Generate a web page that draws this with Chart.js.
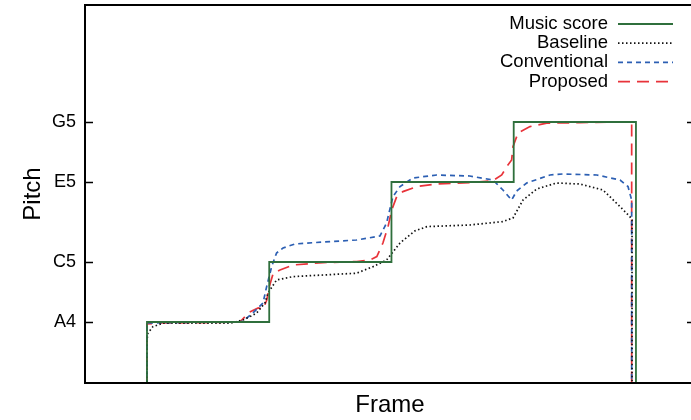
<!DOCTYPE html>
<html>
<head>
<meta charset="utf-8">
<script src="https://cdn.jsdelivr.net/npm/chart.js@4/dist/chart.umd.min.js"></script>
<style>
  html, body { margin: 0; padding: 0; background: #fff; overflow: hidden; }
  #wrap { width: 696px; height: 420px; }
</style>
</head>
<body>
<div id="wrap"><canvas id="pitchChart"></canvas></div>
<script>
// pitch in semitones (MIDI numbers), frames on x
const noteValues = [69, 72, 76, 79];
const noteLabels = ['A4', 'C5', 'E5', 'G5'];
const seriesNames = ['Music score', 'Baseline', 'Conventional', 'Proposed'];

const scoreFrames = [50, 50, 150, 150, 250, 250, 350, 350, 450, 450];
const scorePitch  = [60, 69, 69, 72, 72, 76, 76, 79, 79, 60];

const baselineFrames = [50, 50, 50.8, 54.9, 63, 118, 128.5, 134.3, 139.7, 146.5, 149, 156, 169.4, 194, 221.5, 235, 246, 257, 269, 279, 314, 341, 349.4, 357.6, 368.8, 385, 404, 423, 437, 445, 446.8, 446.8];
const baselinePitch  = [60, 68.1, 68.45, 68.77, 68.94, 68.94, 69.1, 69.27, 69.45, 69.95, 70.45, 71.1, 71.27, 71.35, 71.44, 71.77, 72.1, 72.95, 73.55, 73.77, 73.85, 74.02, 74.2, 75.1, 75.65, 75.95, 75.9, 75.6, 74.77, 74.27, 74.1, 60];

const convFrames = [50, 50, 100, 126, 128.5, 136.7, 144.9, 147.9, 152, 156, 161.3, 171, 194, 221.5, 240.6, 246, 251.2, 257, 267.6, 287, 314, 333, 341.2, 348.3, 352.4, 360.6, 379.7, 390, 418, 437, 443.5, 446.5, 446.5];
const convPitch  = [60, 68.95, 69.0, 69.0, 69.05, 69.45, 69.95, 70.77, 71.77, 72.45, 72.7, 72.9, 73.0, 73.1, 73.3, 73.95, 75.27, 75.77, 76.2, 76.35, 76.3, 76.1, 75.6, 75.1, 75.55, 75.95, 76.35, 76.4, 76.35, 76.1, 75.77, 75.1, 60];

const propFrames = [50, 50, 60, 100, 126, 134, 141, 145, 148, 150, 153.3, 158.8, 169.4, 194, 221.5, 232.4, 238, 243, 247.2, 250.2, 254.3, 259.4, 270.6, 287, 314, 333, 340.2, 344.3, 348.3, 349.4, 353.5, 363.3, 377, 404, 442.4, 446.5, 446.5];
const propPitch  = [60, 68.9, 68.95, 68.97, 69.0, 69.5, 69.7, 69.65, 70.1, 70.75, 71.44, 71.6, 71.85, 71.97, 72.02, 72.1, 72.27, 72.95, 73.77, 74.6, 75.27, 75.52, 75.77, 75.9, 75.97, 76.07, 76.35, 76.77, 77.1, 77.77, 78.45, 78.77, 78.94, 78.97, 79.0, 78.95, 60];

function toPoints(xs, ys) {
    return xs.map((x, i) => ({ x: x, y: ys[i] }));
}

const fontFamily = '"Liberation Sans", Arial, Helvetica, sans-serif';

const datasets = [
    { label: seriesNames[0], data: toPoints(scoreFrames, scorePitch), borderColor: '#2f6f3c', borderWidth: 1.8, borderDash: [] },
    { label: seriesNames[1], data: toPoints(baselineFrames, baselinePitch), borderColor: '#111111', borderWidth: 1.7, borderDash: [1.5, 2.5] },
    { label: seriesNames[2], data: toPoints(convFrames, convPitch), borderColor: '#2c5fb3', borderWidth: 1.7, borderDash: [5, 4] },
    { label: seriesNames[3], data: toPoints(propFrames, propPitch), borderColor: '#e8333a', borderWidth: 1.7, borderDash: [12, 7] }
].map(d => ({ ...d, showLine: true, pointRadius: 0, fill: false, tension: 0 }));

// frame box, inward ticks, gnuplot style key
const framePlugin = {
    id: 'framePlugin',
    afterDraw(chart) {
        const ctx = chart.ctx;
        const a = chart.chartArea;
        const y = chart.scales.y;
        ctx.save();
        ctx.strokeStyle = '#000';
        ctx.lineWidth = 1.5;
        noteValues.forEach(v => {
            const py = Math.round(y.getPixelForValue(v)) + 0.5;
            ctx.beginPath();
            ctx.moveTo(a.left, py); ctx.lineTo(a.left + 8, py);
            ctx.moveTo(a.right, py); ctx.lineTo(a.right - 8, py);
            ctx.stroke();
        });
        ctx.lineWidth = 2;
        ctx.strokeRect(a.left, a.top, a.right - a.left, a.bottom - a.top);

        ctx.font = '18.5px ' + fontFamily;
        ctx.textAlign = 'right';
        ctx.textBaseline = 'middle';
        chart.data.datasets.forEach((ds, i) => {
            const ly = 24 + i * 19.2;
            ctx.fillStyle = '#000';
            ctx.fillText(ds.label, 608, ly);
            ctx.strokeStyle = ds.borderColor;
            ctx.lineWidth = ds.borderWidth;
            ctx.setLineDash(ds.borderDash);
            ctx.beginPath();
            ctx.moveTo(618, ly); ctx.lineTo(673, ly);
            ctx.stroke();
        });
        ctx.restore();
    }
};

new Chart(document.getElementById('pitchChart'), {
    type: 'scatter',
    data: { datasets: datasets },
    options: {
        responsive: true,
        maintainAspectRatio: false,
        animation: false,
        layout: { padding: { left: 19, top: 5, right: 1, bottom: 0 } },
        plugins: { legend: { display: false }, tooltip: { enabled: false } },
        scales: {
            x: {
                type: 'linear',
                min: -0.7,
                max: 498.3,
                grid: { display: false, drawTicks: false },
                border: { display: false },
                ticks: { display: false },
                title: { display: true, text: 'Frame', color: '#000', padding: 0, font: { family: fontFamily, size: 24 } },
                afterFit(scale) { scale.height = 37; }
            },
            y: {
                type: 'linear',
                min: 65.95,
                max: 84.85,
                grid: { display: false, drawTicks: false },
                border: { display: false },
                afterBuildTicks(scale) { scale.ticks = noteValues.map(v => ({ value: v })); },
                ticks: {
                    color: '#000',
                    padding: 9,
                    font: { family: fontFamily, size: 18 },
                    callback: v => noteLabels[noteValues.indexOf(v)]
                },
                title: { display: true, text: 'Pitch', color: '#000', padding: 0, font: { family: fontFamily, size: 24 } },
                afterFit(scale) {
                    scale.width = 66;
                    scale.paddingTop = 0;
                    scale.paddingBottom = 0;
                }
            }
        }
    },
    plugins: [framePlugin]
});
</script>
</body>
</html>
